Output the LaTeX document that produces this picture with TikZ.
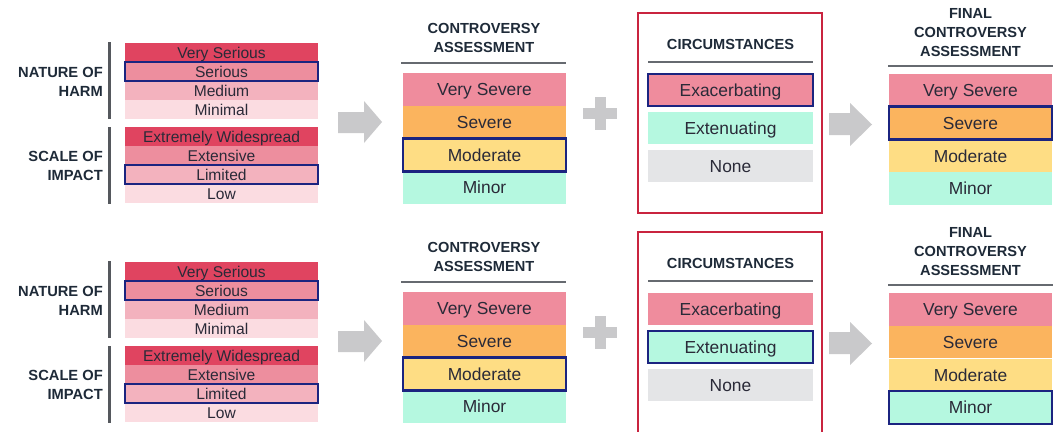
\documentclass[tikz,border=0pt]{standalone}
\usepackage{fontspec}
\setmainfont{Liberation Sans}
\definecolor{vsr}{HTML}{E04460}
\definecolor{ser}{HTML}{ED8E9E}
\definecolor{med}{HTML}{F3B2BE}
\definecolor{mini}{HTML}{FBDCE1}
\definecolor{vsev}{HTML}{EF8C9D}
\definecolor{sev}{HTML}{FBB45E}
\definecolor{mod}{HTML}{FEDD84}
\definecolor{minr}{HTML}{B5F8E0}
\definecolor{nonec}{HTML}{E4E5E7}
\definecolor{navy}{HTML}{1B2480}
\definecolor{redbox}{HTML}{C9243F}
\definecolor{arrowc}{HTML}{C9C9CB}
\definecolor{rulec}{HTML}{666A70}
\definecolor{hdrc}{HTML}{1E2A38}
\definecolor{rowtext}{HTML}{2A2A38}
\definecolor{barc}{HTML}{55585D}
\tikzset{
  hdr/.style={font=\bfseries\fontsize{14.6}{19}\selectfont, text=hdrc, align=center, inner sep=0pt},
  lbl/.style={font=\bfseries\fontsize{14.7}{19}\selectfont, text=hdrc, align=right, inner sep=0pt, anchor=east},
  lrow/.style={rectangle, minimum width=193pt, minimum height=19pt, inner sep=0pt,
    font=\fontsize{15.6}{16}\selectfont, text=rowtext, text height=11pt, text depth=0pt},
  crow/.style={rectangle, minimum width=163pt, minimum height=32.75pt, inner sep=0pt,
    font=\fontsize{17.4}{18}\selectfont, text=rowtext, text height=12.2pt, text depth=0pt},
  cirrow/.style={crow, minimum width=165pt, minimum height=32pt},
  hl/.style={draw=navy, line width=2.5pt},
  rulel/.style={draw=rulec, line width=2.5pt},
  barl/.style={draw=barc, line width=3pt},
  boxl/.style={draw=redbox, line width=2pt},
  garrow/.style={fill=arrowc},
}
\newcommand\mypanel[5]{%
\begin{scope}[shift={(0,#2)}]
  % left labels and bars
  \node[lbl] (#1nat) at (103,81.5) {NATURE OF\\HARM};
  \node[lbl] (#1sca) at (103,166) {SCALE OF\\IMPACT};
  \draw[barl] (109,42) -- (109,119);
  \draw[barl] (109,127) -- (109,204);
  % left stacks
  \node[lrow, fill=vsr]  (#1vs)  at (221.5,52.5)  {Very Serious};
  \node[lrow, fill=ser]  (#1se)  at (221.5,71.5)  {Serious};
  \node[lrow, fill=med]  (#1me)  at (221.5,90.5)  {Medium};
  \node[lrow, fill=mini] (#1mi)  at (221.5,109.5) {Minimal};
  \node[lrow, fill=vsr]  (#1ew)  at (221.5,136.5) {Extremely Widespread};
  \node[lrow, fill=ser]  (#1ex)  at (221.5,155.5) {Extensive};
  \node[lrow, fill=med]  (#1li)  at (221.5,174.5) {Limited};
  \node[lrow, fill=mini] (#1lo)  at (221.5,193.5) {Low};
  % arrow 1
  \fill[garrow] (338,112) -- (364,112) -- (364,101) -- (382,122) -- (364,143) -- (364,133) -- (338,133) -- cycle;
  % controversy assessment
  \node[hdr] (#1cah) at (484,37.5) {CONTROVERSY\\ASSESSMENT};
  \draw[rulel] (401,63) -- (566,63);
  \node[crow, fill=vsev] (#1cvs) at (484.5,89.4)  {Very Severe};
  \node[crow, fill=sev]  (#1cse) at (484.5,122.1) {Severe};
  \node[crow, fill=mod]  (#1cmo) at (484.5,154.9) {Moderate};
  \node[crow, fill=minr] (#1cmi) at (484.5,187.6) {Minor};
  % plus
  \fill[garrow] (583,108) rectangle (617,119);
  \fill[garrow] (595,97) rectangle (606,130);
  % circumstances
  \draw[boxl] (638,#5) -- (638,13) -- (822,13) -- (822,#5) -- cycle;
  \node[hdr] (#1cih) at (730.5,44) {CIRCUMSTANCES};
  \draw[rulel] (648,62) -- (813,62);
  \node[cirrow, fill=vsev]  (#1exa) at (730.5,90)  {Exacerbating};
  \node[cirrow, fill=minr]  (#1ext) at (730.5,128) {Extenuating};
  \node[cirrow, fill=nonec] (#1non) at (730.5,166) {None};
  % arrow 2
  \fill[garrow] (829,113) -- (850,113) -- (850,103) -- (872,124.5) -- (850,146) -- (850,135) -- (829,135) -- cycle;
  % final
  \node[hdr] (#1fh) at (970.5,32.5) {FINAL\\CONTROVERSY\\ASSESSMENT};
  \draw[rulel] (888,66) -- (1053,66);
  \node[crow, fill=vsev] (#1fvs) at (970.5,90.4)  {Very Severe};
  \node[crow, fill=sev]  (#1fse) at (970.5,123.1) {Severe};
  \node[crow, fill=mod]  (#1fmo) at (970.5,155.9) {Moderate};
  \node[crow, fill=minr] (#1fmi) at (970.5,188.6) {Minor};
  % highlights
  \draw[hl] (#1se.north west) rectangle (#1se.south east);
  \draw[hl] (#1li.north west) rectangle (#1li.south east);
  \draw[hl] (#1cmo.north west) rectangle (#1cmo.south east);
  \draw[hl] (#1#3.north west) rectangle (#1#3.south east);
  \draw[hl] (#1#4.north west) rectangle (#1#4.south east);
\end{scope}}
\begin{document}
\begin{tikzpicture}[x=1pt,y=-1pt]
  \useasboundingbox (0,0) rectangle (1060,431);
  \clip (0,0) rectangle (1060,431);
  \fill[white] (0,0) rectangle (1060,431);
  \mypanel{t}{0}{exa}{fse}{213}
  \mypanel{b}{219}{ext}{fmi}{240}
\end{tikzpicture}
\end{document}
